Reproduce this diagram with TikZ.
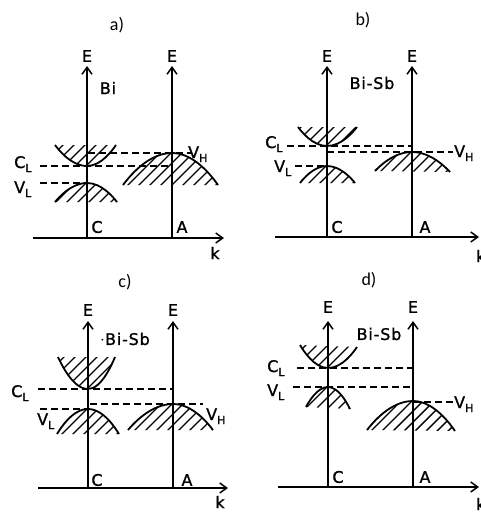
\documentclass[tikz,border=0pt]{standalone}
\usepackage{fontspec}
\setmainfont[FakeBold=1.2,LetterSpace=5]{DejaVu Sans}
\newfontfamily\titlefont{Carlito}
\usetikzlibrary{arrows.meta}
\tikzset{
  axisarrow/.style={line width=1.7pt,-{Straight Barb[length=7pt,width=10pt,line width=1.5pt]}},
  bandline/.style={line width=1.8pt},
  hatchline/.style={line width=1.4pt},
  dashlevel/.style={line width=1.3pt,dash pattern=on 7pt off 4pt},
  lab/.style={font=\fontsize{16}{16}\selectfont,inner sep=0pt},
  sublab/.style={font=\fontsize{16}{16}\selectfont,inner sep=0pt,anchor=base west},
  ttl/.style={font=\titlefont\fontsize{18}{18}\selectfont,inner sep=0pt},
}
\newcommand\lsub[2]{#1\raisebox{-4pt}{\fontsize{11}{11}\selectfont #2}}
\newcommand\energyband[6]{%
  \begin{scope}
    \clip (#3,#4) parabola bend (#1,#2) (#5,#6) -- cycle;
    \foreach \t in {-100,-89,...,100} \draw[hatchline] (#1+\t-50,#2+50) -- ++(100,-100);
  \end{scope}
  \draw[bandline] (#3,#4) parabola bend (#1,#2) (#5,#6);
}
\begin{document}
\begin{tikzpicture}[x=1pt,y=-1pt]
\useasboundingbox (0,0) rectangle (480,514);
% ---------------- panel a
\node[ttl] (ta) at (117,25) {a)};
\coordinate (aC0) at (87,238); \coordinate (aC1) at (87,66);
\coordinate (aA0) at (172,238); \coordinate (aA1) at (172,66);
\coordinate (ak0) at (33,238); \coordinate (ak1) at (224,238);
\draw[dashlevel] (88,153) coordinate (avh0) -- (192,153) coordinate (avh1);
\draw[dashlevel] (40,166) coordinate (acl0) -- (172,166) coordinate (acl1);
\draw[dashlevel] (40,183) coordinate (avl0) -- (87,183) coordinate (avl1);
\energyband{87}{166}{55}{145}{116}{145}
\energyband{87}{183}{55}{202}{117}{202}
\energyband{172}{153}{123}{185}{218}{185}
\draw[axisarrow] (aC0) -- (aC1);
\draw[axisarrow] (aA0) -- (aA1);
\draw[axisarrow] (ak0) -- (ak1);
\node[lab] (aE1) at (87,56) {E};
\node[lab] (aE2) at (172,56) {E};
\node[lab] (abi) at (108,88) {Bi};
\node[lab] (aCl) at (97,227) {C};
\node[lab] (aAl) at (182,227) {A};
\node[lab] (akl) at (215,253) {k};
\node[sublab] (aCL) at (14,168) {\lsub{C}{L}};
\node[sublab] (aVL) at (14,193) {\lsub{V}{L}};
\node[sublab] (aVH) at (188,158) {\lsub{V}{H}};
% ---------------- panel b
\node[ttl] (tb) at (363,20) {b)};
\coordinate (bC0) at (327,237); \coordinate (bC1) at (327,66);
\coordinate (bA0) at (412,237); \coordinate (bA1) at (412,66);
\coordinate (bk0) at (275,237); \coordinate (bk1) at (479,237);
\draw[dashlevel] (287,146) coordinate (bcl0) -- (412,146) coordinate (bcl1);
\draw[dashlevel] (327,152) coordinate (bvh0) -- (453,152) coordinate (bvh1);
\draw[dashlevel] (295,166) coordinate (bvl0) -- (327,166) coordinate (bvl1);
\energyband{327}{146}{298}{127}{357}{127}
\energyband{327}{166}{300}{183}{355}{183}
\energyband{412}{152}{375}{171}{450}{172}
\draw[axisarrow] (bC0) -- (bC1);
\draw[axisarrow] (bA0) -- (bA1);
\draw[axisarrow] (bk0) -- (bk1);
\node[lab] (bE1) at (327,56) {E};
\node[lab] (bE2) at (412,56) {E};
\node[lab] (bbi) at (372,83) {Bi-Sb};
\node[lab] (bCl) at (337,227) {C};
\node[lab] (bAl) at (425,227) {A};
\node[lab,anchor=west] (bkl) at (476,256) {k};
\node[sublab] (bCL) at (265,148) {\lsub{C}{L}};
\node[sublab] (bVL) at (274,172) {\lsub{V}{L}};
\node[sublab] (bVH) at (454,157) {\lsub{V}{H}};
% ---------------- panel c
\node[ttl] (tc) at (125,282) {c)};
\coordinate (cC0) at (88,488); \coordinate (cC1) at (88,321);
\coordinate (cA0) at (173,488); \coordinate (cA1) at (173,321);
\coordinate (ck0) at (38,488); \coordinate (ck1) at (228,488);
\draw[dashlevel] (38,389) coordinate (ccl0) -- (173,389) coordinate (ccl1);
\draw[dashlevel] (90,404) coordinate (cvh0) -- (203,404) coordinate (cvh1);
\draw[dashlevel] (40,409) coordinate (cvl0) -- (88,409) coordinate (cvl1);
\energyband{88}{389}{58}{357}{115}{357}
\energyband{88}{409}{57}{434}{119}{434}
\energyband{173}{404}{128}{430}{213}{430}
\draw[axisarrow] (cC0) -- (cC1);
\draw[axisarrow] (cA0) -- (cA1);
\draw[axisarrow] (ck0) -- (ck1);
\node[lab] (cE1) at (88,310) {E};
\node[lab] (cE2) at (173,310) {E};
\node[lab] (cbi) at (125,339) {$\cdot$Bi-Sb};
\node[lab] (cCl) at (97,480) {C};
\node[lab] (cAl) at (187,480) {A};
\node[lab] (ckl) at (220,502) {k};
\node[sublab] (cCL) at (11,397) {\lsub{C}{L}};
\node[sublab] (cVL) at (37,425) {\lsub{V}{L}};
\node[sublab] (cVH) at (206,420) {\lsub{V}{H}};
% ---------------- panel d
\node[ttl] (td) at (369,280) {d)};
\coordinate (dC0) at (328,487); \coordinate (dC1) at (328,321);
\coordinate (dA0) at (413,487); \coordinate (dA1) at (413,321);
\coordinate (dk0) at (278,487); \coordinate (dk1) at (479,487);
\draw[dashlevel] (297,368) coordinate (dcl0) -- (413,368) coordinate (dcl1);
\draw[dashlevel] (293,387) coordinate (dvl0) -- (413,387) coordinate (dvl1);
\draw[dashlevel] (413,402) coordinate (dvh0) -- (453,402) coordinate (dvh1);
\energyband{328}{368}{300}{345}{357}{347}
\energyband{328}{387}{306}{407}{350}{409}
\energyband{413}{401}{367}{430}{455}{431}
\draw[axisarrow] (dC0) -- (dC1);
\draw[axisarrow] (dA0) -- (dA1);
\draw[axisarrow] (dk0) -- (dk1);
\node[lab] (dE1) at (328,307) {E};
\node[lab] (dE2) at (413,307) {E};
\node[lab] (dbi) at (379,334) {Bi-Sb};
\node[lab] (dCl) at (338,477) {C};
\node[lab] (dAl) at (425,477) {A};
\node[lab,anchor=west] (dkl) at (476,504) {k};
\node[sublab] (dCL) at (267,372) {\lsub{C}{L}};
\node[sublab] (dVL) at (267,396) {\lsub{V}{L}};
\node[sublab] (dVH) at (454,408) {\lsub{V}{H}};
\end{tikzpicture}
\end{document}
